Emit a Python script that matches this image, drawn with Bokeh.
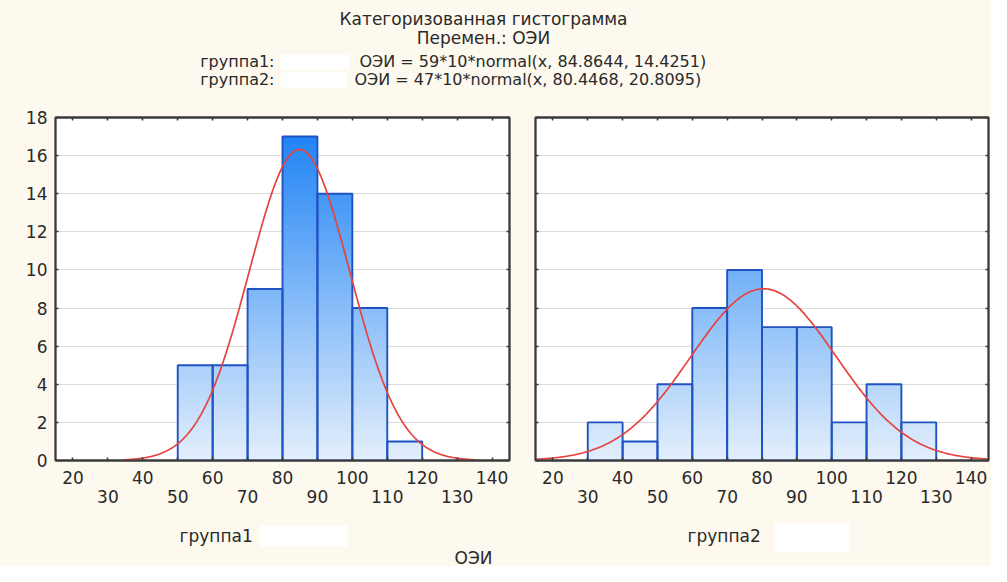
import numpy as np
from bokeh.plotting import figure
from bokeh.models import LinearAxis, FixedTicker, Grid, ColumnDataSource
from bokeh.layouts import column, row
from bokeh.core.properties import value
from bokeh.embed import file_html
from bokeh.resources import INLINE

# ---------------- data ----------------
title_lines = ["Категоризованная гистограмма", "Перемен.: ОЭИ"]
group_names = ["группа1", "группа2"]
formulas = ["ОЭИ = 59*10*normal(x, 84.8644, 14.4251)",
            "ОЭИ = 47*10*normal(x, 80.4468, 20.8095)"]
x_label = "ОЭИ"

bin_width = 10
g1_left_edges = [50, 60, 70, 80, 90, 100, 110]
g1_counts = [5, 5, 9, 17, 14, 8, 1]
g2_left_edges = [30, 40, 50, 60, 70, 80, 90, 100, 110, 120]
g2_counts = [2, 1, 4, 8, 10, 7, 7, 2, 4, 2]

g1_n, g1_mean, g1_sd = 59, 84.8644, 14.4251
g2_n, g2_mean, g2_sd = 47, 80.4468, 20.8095

y_ticks = [0, 2, 4, 6, 8, 10, 12, 14, 16, 18]
x_ticks_all = [20, 30, 40, 50, 60, 70, 80, 90, 100, 110, 120, 130, 140]
x_ticks_row1 = [20, 40, 60, 80, 100, 120, 140]
x_ticks_row2 = [30, 50, 70, 90, 110, 130]
x_min, x_max = 15, 145
y_min, y_max = 0, 18

# ---------------- style ----------------
CREAM = "#fdf9ef"
FONT = value("DejaVu Sans")
TXT = "#2a2a2a"
FRAME = "#3a3a3a"
BAR_LINE = "#1f52c2"
CURVE = "#e5433f"
LOW = np.array([228, 239, 252])
HIGH = np.array([22, 126, 244])


def shade(y):
    t = max(0.0, min(1.0, y / y_max))
    c = LOW + (HIGH - LOW) * t
    return "#%02x%02x%02x" % tuple(int(round(v)) for v in c)


def panel(width, mbl, mbr, left_edges, counts, n, mean, sd, show_ylabels):
    p = figure(width=width, height=413, x_range=(x_min, x_max), y_range=(y_min, y_max),
               x_axis_type=None, y_axis_type=None, output_backend="svg",
               toolbar_location=None, min_border_left=mbl, min_border_right=mbr,
               min_border_top=13, min_border_bottom=57)
    p.background_fill_color = "white"
    p.border_fill_color = CREAM
    p.outline_line_color = FRAME
    p.outline_line_width = 1.8

    p.add_layout(Grid(dimension=1, ticker=FixedTicker(ticks=y_ticks),
                      grid_line_color="#dadada", grid_line_width=1))

    # gradient bars: stacked quads from bottom, tallest first
    dy = 0.1
    L, R, B, T, C = [], [], [], [], []
    for le, c in zip(left_edges, counts):
        tops = np.arange(c, 0, -dy)
        for t in tops:
            L.append(le); R.append(le + bin_width); B.append(0); T.append(float(t))
            C.append(shade(t - dy / 2))
    src = ColumnDataSource(dict(left=L, right=R, bottom=B, top=T, color=C))
    p.quad(left="left", right="right", bottom="bottom", top="top", fill_color="color",
           line_color=None, source=src)
    p.quad(left=left_edges, right=[e + bin_width for e in left_edges], bottom=0, top=counts,
           fill_color=None, line_color=BAR_LINE, line_width=1.9)

    # fitted normal curve (from the parameters in the heading)
    xs = np.linspace(max(x_min, mean - 3.5 * sd), min(x_max, mean + 3.5 * sd), 400)
    ys = n * bin_width * np.exp(-0.5 * ((xs - mean) / sd) ** 2) / (sd * np.sqrt(2 * np.pi))
    p.line(xs, ys, line_color=CURVE, line_width=1.7)

    def style(ax):
        ax.axis_line_color = FRAME
        ax.axis_line_width = 1.8
        ax.major_tick_in = 3
        ax.major_tick_out = 0
        ax.major_tick_line_color = FRAME
        ax.major_tick_line_width = 1.6
        ax.minor_tick_line_color = None
        ax.major_label_text_font = "DejaVu Sans"
        ax.major_label_text_font_size = "17px"
        ax.major_label_text_color = TXT

    b1 = LinearAxis(ticker=FixedTicker(ticks=x_ticks_all),
                    major_label_overrides={v: "" for v in x_ticks_row2})
    style(b1)
    b1.major_label_standoff = 10
    b2 = LinearAxis(ticker=FixedTicker(ticks=x_ticks_row2))
    style(b2)
    b2.axis_line_color = None
    b2.major_tick_line_color = None
    b2.major_label_standoff = 3
    top = LinearAxis(ticker=FixedTicker(ticks=x_ticks_all),
                     major_label_overrides={v: "" for v in x_ticks_all})
    style(top)
    top.major_label_standoff = 0
    lax = LinearAxis(ticker=FixedTicker(ticks=y_ticks))
    style(lax)
    lax.major_label_standoff = 8
    if not show_ylabels:
        lax.major_label_overrides = {v: "" for v in y_ticks}
        lax.major_label_standoff = 0
    rax = LinearAxis(ticker=FixedTicker(ticks=y_ticks),
                     major_label_overrides={v: "" for v in y_ticks})
    style(rax)
    rax.major_label_standoff = 0

    p.add_layout(b1, "below")
    p.add_layout(b2, "below")
    p.add_layout(top, "above")
    p.add_layout(lax, "left")
    p.add_layout(rax, "right")
    return p


def canvas(w, h):
    p = figure(width=w, height=h, x_range=(0, w), y_range=(h, 0), x_axis_type=None,
               y_axis_type=None, output_backend="svg", toolbar_location=None,
               min_border=0, min_border_left=0, min_border_right=0,
               min_border_top=0, min_border_bottom=0)
    p.background_fill_color = CREAM
    p.border_fill_color = CREAM
    p.outline_line_color = None
    return p


# header
head = canvas(991, 104)
head.quad(left=[280, 280], right=[349, 346], top=[54, 72], bottom=[69, 87],
          fill_color="white", fill_alpha=0.95, line_color=None)
head.text(x=[483, 483], y=[18, 37], text=title_lines, text_font=FONT,
          text_font_size="17px", text_align="center", text_baseline="middle",
          text_color=TXT)
head.text(x=[274, 274], y=[61, 79], text=[g + ":" for g in group_names], text_font=FONT,
          text_font_size="16px", text_align="right", text_baseline="middle", text_color=TXT)
head.text(x=[359, 354], y=[61, 79], text=formulas, text_font=FONT,
          text_font_size="16px", text_align="left", text_baseline="middle", text_color=TXT)

left = panel(521, 55, 12, g1_left_edges, g1_counts, g1_n, g1_mean, g1_sd, True)
right = panel(470, 14, 3, g2_left_edges, g2_counts, g2_n, g2_mean, g2_sd, False)

# footer
foot = canvas(991, 49)
foot.quad(left=[259, 774], right=[347, 849], top=[8, 6], bottom=[29, 34],
          fill_color="white", fill_alpha=0.95, line_color=None)
foot.text(x=[179, 687], y=[18, 18], text=group_names, text_font=FONT,
          text_font_size="17px", text_align="left", text_baseline="middle", text_color=TXT)
foot.text(x=[473], y=[40], text=[x_label], text_font=FONT, text_font_size="17px",
          text_align="center", text_baseline="middle", text_color=TXT)

layout = column(head, row(left, right, styles={"background-color": CREAM}),
                foot, styles={"background-color": CREAM})
open("out.html", "w").write(file_html(layout, INLINE))
